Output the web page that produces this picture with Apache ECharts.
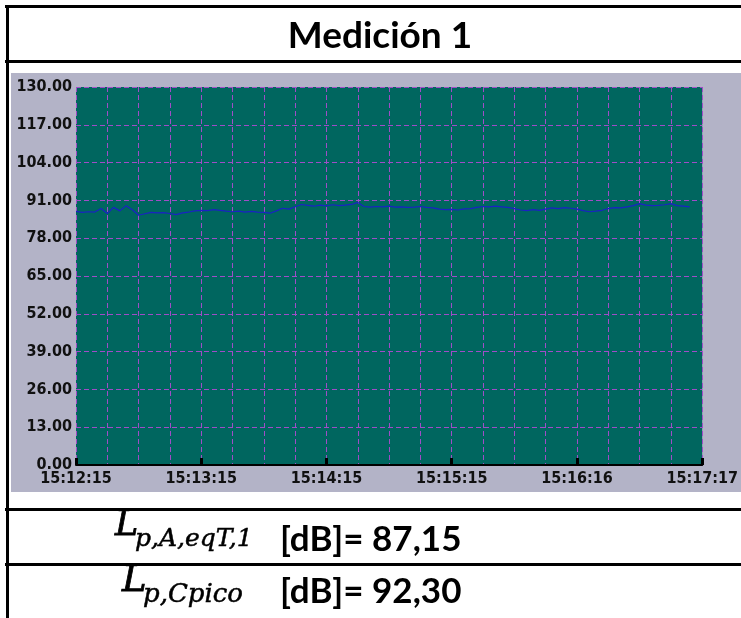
<!DOCTYPE html>
<html>
<head>
<meta charset="utf-8">
<script src="https://cdn.jsdelivr.net/npm/echarts@6/dist/echarts.min.js"></script>
<style>
  html, body { margin: 0; padding: 0; background: #fff; }
  #chart { width: 741px; height: 618px; }
</style>
</head>
<body>
<div id="chart"></div>
<script>
// Sound level record, measurement 1 (seconds after 15:12:15, dB)
const elapsedSec = [
  0, 3, 6, 9, 12, 15, 18, 21, 24, 27,
  30, 33, 36, 39, 42, 45, 48, 51, 54, 57,
  60, 63, 66, 69, 72, 75, 78, 81, 84, 87,
  90, 93, 96, 99, 102, 105, 108, 111, 114, 117,
  120, 123, 126, 129, 132, 135, 138, 141, 144, 147,
  150, 153, 156, 159, 162, 165, 168, 171, 174, 177,
  180, 183, 186, 189, 192, 195, 198, 201, 204, 207,
  210, 213, 216, 219, 222, 225, 228, 231, 234, 237,
  240, 243, 246, 249, 252, 255, 258, 261, 264, 267,
  270, 273, 276, 279, 282, 285, 288, 291, 294
];
const levelDb = [
  87.2, 86.9, 87.1, 87.0, 88.2, 86.5, 88.6, 87.4, 89.2, 87.8,
  85.9, 86.4, 86.9, 86.7, 86.8, 86.5, 86.1, 86.7, 87.0, 87.4,
  87.6, 87.5, 87.8, 87.6, 87.3, 87.1, 87.3, 87.0, 87.2, 87.0,
  86.9, 86.6, 87.4, 88.3, 88.0, 88.8, 89.6, 89.3, 89.0, 89.4,
  89.1, 89.5, 89.2, 89.4, 89.6, 90.3, 88.9, 88.7, 88.9, 88.8,
  89.0, 88.7, 88.8, 88.6, 88.7, 88.9, 88.6, 88.4, 88.0, 87.8,
  87.9, 87.7, 88.1, 88.2, 88.6, 88.9, 88.8, 89.0, 88.8, 88.6,
  88.2, 87.7, 87.5, 87.8, 87.6, 88.0, 88.4, 88.2, 88.5, 88.3,
  88.0, 87.5, 87.1, 87.3, 87.6, 88.2, 88.5, 88.4, 88.8, 89.2,
  89.9, 89.4, 89.2, 89.3, 89.5, 89.9, 89.2, 89.0, 88.8
];
const timeLabels = ['15:12:15', '15:13:15', '15:14:15', '15:15:15', '15:16:16', '15:17:17'];
const titleText = 'Medición 1';
const resultRows = [
  { sub: 'p,A,eqT,1', value: '[dB]= 87,15' },
  { sub: 'p,Cpico', value: '[dB]= 92,30' }
];

const points = elapsedSec.map((s, i) => [s, levelDb[i]]);

const gridPurple = '#a04cc8';
const panelGray = '#b3b3c7';
const plotTeal = '#00665f';
const axisFontFamily = '"DejaVu Sans Condensed", "DejaVu Sans", sans-serif';
const dashed = { color: gridPurple, width: 1, type: [5, 3] };

const chart = echarts.init(document.getElementById('chart'), null, { renderer: 'canvas' });

const frameLines = [
  { x1: 5, y1: 6.5, x2: 741, y2: 6.5 },
  { x1: 7.5, y1: 5, x2: 7.5, y2: 618 },
  { x1: 5, y1: 61.5, x2: 741, y2: 61.5 },
  { x1: 5, y1: 509.5, x2: 741, y2: 509.5 },
  { x1: 5, y1: 564.5, x2: 741, y2: 564.5 }
];

const graphics = [
  { type: 'rect', z: -10, silent: true,
    shape: { x: 11, y: 73, width: 730, height: 419 },
    style: { fill: panelGray } }
];
frameLines.forEach(l => graphics.push({
  type: 'line', z: 10, silent: true,
  shape: l, style: { stroke: '#000', lineWidth: 3 }
}));
graphics.push({
  type: 'text', z: 10, x: 380, y: 36,
  style: { text: titleText, font: 'bold 37px Lato, "Open Sans", sans-serif',
           fill: '#000', align: 'center', verticalAlign: 'middle' }
});

const rowLayout = [
  { lx: 115, ly: 525.5, lsize: 35, sx: 135, sy: 539, ssize: 25, vx: 280, vy: 539.5 },
  { lx: 122, ly: 581.5, lsize: 37, sx: 143, sy: 595, ssize: 26, vx: 280, vy: 591.5 }
];
resultRows.forEach((r, i) => {
  const p = rowLayout[i];
  graphics.push({
    type: 'text', z: 10, x: p.lx, y: p.ly,
    style: { text: 'L', font: 'italic ' + p.lsize + 'px "DejaVu Serif", serif',
             fill: '#000', stroke: '#000', lineWidth: 0.8,
             align: 'left', verticalAlign: 'middle' }
  });
  graphics.push({
    type: 'text', z: 10, x: p.sx, y: p.sy,
    style: { text: r.sub, font: 'italic ' + p.ssize + 'px "DejaVu Serif", serif',
             fill: '#000', stroke: '#000', lineWidth: 0.5,
             align: 'left', verticalAlign: 'middle' }
  });
  graphics.push({
    type: 'text', z: 10, x: p.vx, y: p.vy,
    style: { text: r.value, font: 'bold 35px Lato, "Open Sans", sans-serif',
             fill: '#000', align: 'left', verticalAlign: 'middle' }
  });
});

chart.setOption({
  backgroundColor: '#ffffff',
  animation: false,
  grid: {
    left: 76, right: 34, top: 87, bottom: 153,
    show: true, backgroundColor: plotTeal, borderWidth: 0
  },
  xAxis: [{
    // time axis with labels and black ticks
    type: 'value', min: 0, max: 300, interval: 60,
    axisLine: { show: true, lineStyle: { color: '#000', width: 2 } },
    axisTick: { show: true, inside: true, length: 7, lineStyle: { color: '#000', width: 3 } },
    axisLabel: {
      margin: 6, color: '#111', fontFamily: axisFontFamily,
      fontWeight: 'bold', fontSize: 16,
      formatter: v => timeLabels[Math.round(v / 60)] || ''
    },
    splitLine: { show: false },
    z: 3
  }, {
    // dashed vertical grid every 15 s
    type: 'value', min: 0, max: 300, interval: 15, position: 'bottom',
    axisLine: { show: false }, axisTick: { show: false }, axisLabel: { show: false },
    splitLine: { show: true, lineStyle: dashed }
  }],
  yAxis: {
    type: 'value', min: 0, max: 130, interval: 13,
    axisLine: { show: false },
    axisTick: { show: false },
    axisLabel: {
      margin: 4, color: '#111', fontFamily: axisFontFamily,
      fontWeight: 'bold', fontSize: 16,
      formatter: v => v.toFixed(2)
    },
    splitLine: { show: true, lineStyle: dashed }
  },
  series: [{
    type: 'line',
    xAxisIndex: 0,
    data: points,
    showSymbol: false,
    symbol: 'none',
    lineStyle: { color: '#1a22c4', width: 1.2 },
    z: 5
  }],
  graphic: graphics
});
</script>
</body>
</html>
